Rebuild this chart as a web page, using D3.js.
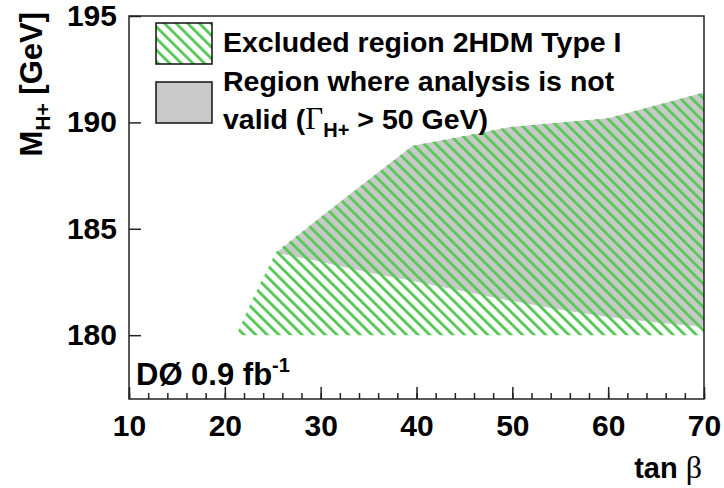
<!DOCTYPE html>
<html>
<head>
<meta charset="utf-8">
<script src="https://cdn.jsdelivr.net/npm/d3@7"></script>
<style>
  html, body { margin: 0; padding: 0; background: #fff; }
  svg { display: block; font-family: "Liberation Sans", Arial, sans-serif; font-weight: bold; }
</style>
</head>
<body>
<svg id="chart" width="724" height="488"></svg>
<script>
// ---- data ----
const xTickValues = [10, 20, 30, 40, 50, 60, 70];
const yTickValues = [180, 185, 190, 195];
// Excluded region (2HDM Type I): lower limit 180 GeV, upper boundary
const excludedTanB  = [21.2, 22.0, 22.9, 23.9, 24.9, 25.3, 39.6, 50.0, 60.0, 70.0];
const excludedUpper = [180.0, 180.8, 181.7, 182.6, 183.5, 183.9, 188.9, 189.8, 190.2, 191.4];
const excludedLower = 180;
// Region where analysis is not valid (Gamma_H+ > 50 GeV)
const invalidTanB  = [25.6, 30, 35, 39.6, 45, 50, 55, 60, 65, 70];
const invalidUpper = [183.95, 185.55, 187.3, 188.9, 189.35, 189.8, 190.0, 190.2, 190.8, 191.4];
const invalidLower = [183.85, 183.45, 182.95, 182.55, 182.05, 181.6, 181.2, 180.85, 180.6, 180.4];
const legendLabels = ["Excluded region 2HDM Type I", "Region where analysis is not", "valid ("];

// ---- layout ----
const svg = d3.select("#chart");
const L = 129, R = 704, T = 16, B = 399;
const x = d3.scaleLinear().domain([10, 70]).range([L, R]);
const y = d3.scaleLinear().domain([177, 195]).range([B, T]);
const green = "#58c858", gray = "#c9c9c9";

const defs = svg.append("defs");
const pat = defs.append("pattern").attr("id", "hatch")
  .attr("patternUnits", "userSpaceOnUse").attr("width", 8.2).attr("height", 10)
  .attr("patternTransform", "rotate(-45)");
pat.append("rect").attr("x", 0).attr("y", 0).attr("width", 2.9).attr("height", 10).attr("fill", green);

defs.append("clipPath").attr("id", "plotclip").append("rect")
  .attr("x", L).attr("y", T).attr("width", R - L).attr("height", B - T);

const g = svg.append("g").attr("clip-path", "url(#plotclip)");

// invalid region (gray)
const invalidData = invalidTanB.map((t, i) => ({t, lo: invalidLower[i], hi: invalidUpper[i]}));
g.append("path").datum(invalidData)
  .attr("d", d3.area().x(d => x(d.t)).y0(d => y(d.lo)).y1(d => y(d.hi)))
  .attr("fill", gray);

// excluded region (hatched)
const exclData = excludedTanB.map((t, i) => ({t, hi: excludedUpper[i]}));
g.append("path").datum(exclData)
  .attr("d", d3.area().x(d => x(d.t)).y0(() => y(excludedLower)).y1(d => y(d.hi)))
  .attr("fill", "url(#hatch)");

// ---- axes ----
const xMinor = d3.axisBottom(x).tickValues(d3.range(10, 70.1, 2)).tickSize(-6).tickFormat("");
const xMajor = d3.axisBottom(x).tickValues(xTickValues).tickSize(-12).tickPadding(16).tickFormat(d3.format("d"));
const yMajor = d3.axisLeft(y).tickValues(yTickValues).tickSize(-12).tickPadding(12).tickFormat(d3.format("d"));

function styleAxis(sel) {
  sel.select(".domain").remove();
  sel.selectAll(".tick line").attr("stroke", "#222").attr("stroke-width", 1.5);
  sel.selectAll(".tick text").attr("fill", "#000").attr("font-size", 30)
    .attr("font-family", "Liberation Sans, Arial, sans-serif").attr("font-weight", "bold");
}
svg.append("g").attr("transform", `translate(0,${B})`).call(xMinor).call(styleAxis);
svg.append("g").attr("transform", `translate(0,${B})`).call(xMajor).call(styleAxis);
svg.append("g").attr("transform", `translate(${L},0)`).call(yMajor).call(styleAxis);

// frame
svg.append("rect").attr("x", L).attr("y", T).attr("width", R - L).attr("height", B - T)
  .attr("fill", "none").attr("stroke", "#222").attr("stroke-width", 1.5);

// axis titles
const xt = svg.append("text").attr("x", 702).attr("y", 478).attr("text-anchor", "end")
  .attr("font-size", 29).attr("fill", "#000");
xt.append("tspan").text("tan ");
xt.append("tspan").attr("font-family", "Liberation Serif, serif").attr("font-weight", "normal").attr("font-size", 32).text("β");

const yt = svg.append("text").attr("transform", "translate(42,12) rotate(-90)")
  .attr("text-anchor", "end").attr("font-size", 31).attr("fill", "#000");
yt.append("tspan").text("M");
yt.append("tspan").attr("font-size", 21).attr("dy", 8).text("H+");
yt.append("tspan").attr("dy", -8).text(" [GeV]");

// DØ label
const dl = svg.append("text").attr("x", 136).attr("y", 385).attr("font-size", 31).attr("fill", "#000");
dl.append("tspan").text("DØ 0.9 fb");
dl.append("tspan").attr("font-size", 20).attr("dy", -13).text("-1");

// ---- legend ----
svg.append("rect").attr("x", 156).attr("y", 23).attr("width", 56).attr("height", 41)
  .attr("fill", "#fff").attr("stroke", "none");
svg.append("rect").attr("x", 156).attr("y", 23).attr("width", 56).attr("height", 41)
  .attr("fill", "url(#hatch)").attr("stroke", "#111").attr("stroke-width", 1.5);
svg.append("rect").attr("x", 156).attr("y", 82).attr("width", 56).attr("height", 41)
  .attr("fill", gray).attr("stroke", "#111").attr("stroke-width", 1.5);

const lf = 28.5;
svg.append("text").attr("x", 223).attr("y", 52).attr("font-size", lf).attr("fill", "#000").text(legendLabels[0]);
svg.append("text").attr("x", 223).attr("y", 91).attr("font-size", lf).attr("fill", "#000").text(legendLabels[1]);
const l3 = svg.append("text").attr("x", 223).attr("y", 129).attr("font-size", lf).attr("fill", "#000");
l3.append("tspan").text(legendLabels[2]);
l3.append("tspan").attr("font-family", "Liberation Serif, serif").attr("font-weight", "normal").attr("font-size", 31).text("Γ");
l3.append("tspan").attr("font-size", 20).attr("dy", 8).text("H+");
l3.append("tspan").attr("dy", -8).text(" > 50 GeV)");
</script>
</body>
</html>
